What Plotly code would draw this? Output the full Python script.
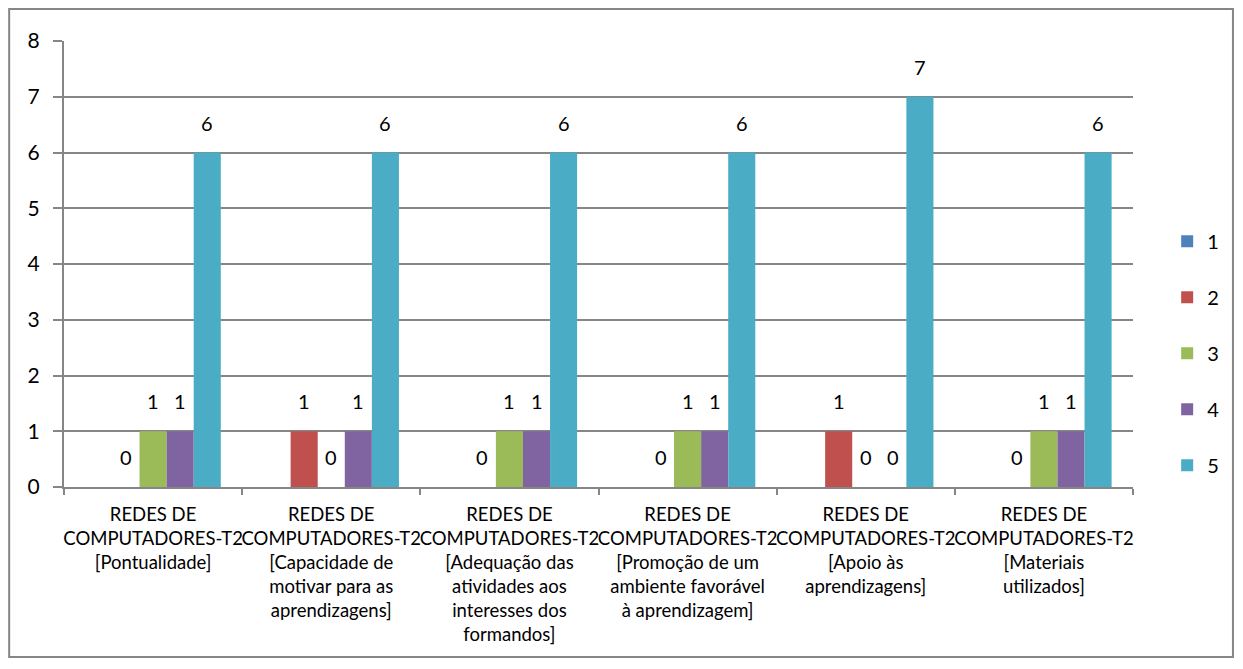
import plotly.graph_objects as go

categories = [
    "REDES DE<br>COMPUTADORES-T2<br>[Pontualidade]",
    "REDES DE<br>COMPUTADORES-T2<br>[Capacidade de<br>motivar para as<br>aprendizagens]",
    "REDES DE<br>COMPUTADORES-T2<br>[Adequação das<br>atividades aos<br>interesses dos<br>formandos]",
    "REDES DE<br>COMPUTADORES-T2<br>[Promoção de um<br>ambiente favorável<br>à aprendizagem]",
    "REDES DE<br>COMPUTADORES-T2<br>[Apoio às<br>aprendizagens]",
    "REDES DE<br>COMPUTADORES-T2<br>[Materiais<br>utilizados]",
]

series_names = ["1", "2", "3", "4", "5"]
s1 = [None, None, None, None, None, None]
s2 = [0, 1, 0, 0, 1, 0]
s3 = [1, 0, 1, 1, 0, 1]
s4 = [1, 1, 1, 1, 0, 1]
s5 = [6, 6, 6, 6, 7, 6]
colors = ["#4F81BD", "#C0504D", "#9BBB59", "#8064A2", "#4BACC6"]

font = "Lato, Carlito, Calibri, sans-serif"
grey = "#868686"
bargap = 0.24
all_series = [s1, s2, s3, s4, s5]

fig = go.Figure()
labels = []
bar_w = (1 - bargap) / len(all_series)
for k, (name, vals, col) in enumerate(zip(series_names, all_series, colors)):
    fig.add_trace(go.Bar(
        x=categories, y=vals, name=name, legendgroup=name,
        marker=dict(color=col, line=dict(width=0)),
    ))
    # data labels above each bar (Excel style, a bit above the top)
    for i, v in enumerate(vals):
        if v is None:
            continue
        labels.append(dict(
            x=i - (1 - bargap) / 2 + bar_w * (k + 0.5), y=v,
            xref="x", yref="y", text=str(v), showarrow=False,
            yanchor="middle", yshift=30,
            font=dict(size=20, color="black", family=font),
        ))

fig.update_layout(
    width=1227, height=650,
    paper_bgcolor="white", plot_bgcolor="white",
    margin=dict(l=56, r=101, t=33, b=171),
    barmode="group", bargap=bargap, bargroupgap=0,
    font=dict(family=font, color="black"),
    showlegend=True,
    legend=dict(x=1.031, y=0.3, xanchor="left", yanchor="middle",
                font=dict(size=20), tracegroupgap=27, itemwidth=30),
    xaxis=dict(showline=True, linecolor=grey, linewidth=2, ticks="outside",
               tickson="boundaries", ticklen=6, tickcolor=grey, tickwidth=2,
               tickfont=dict(size=18.5), tickangle=0, ticklabelstandoff=10),
    yaxis=dict(range=[0, 8], dtick=1, showgrid=True, gridcolor=grey,
               gridwidth=1.5, showline=True, linecolor=grey, linewidth=2,
               ticks="outside", ticklen=9, tickcolor=grey, tickwidth=1.5,
               tickfont=dict(size=21), zeroline=False, ticklabelstandoff=9),
    annotations=labels,
    shapes=[dict(type="rect", xref="paper", yref="paper",
                 x0=-0.0513, x1=1.0935, y0=-0.3812, y1=1.072,
                 line=dict(color=grey, width=2))],
)

fig.write_html("out.html", config={"responsive": False})
